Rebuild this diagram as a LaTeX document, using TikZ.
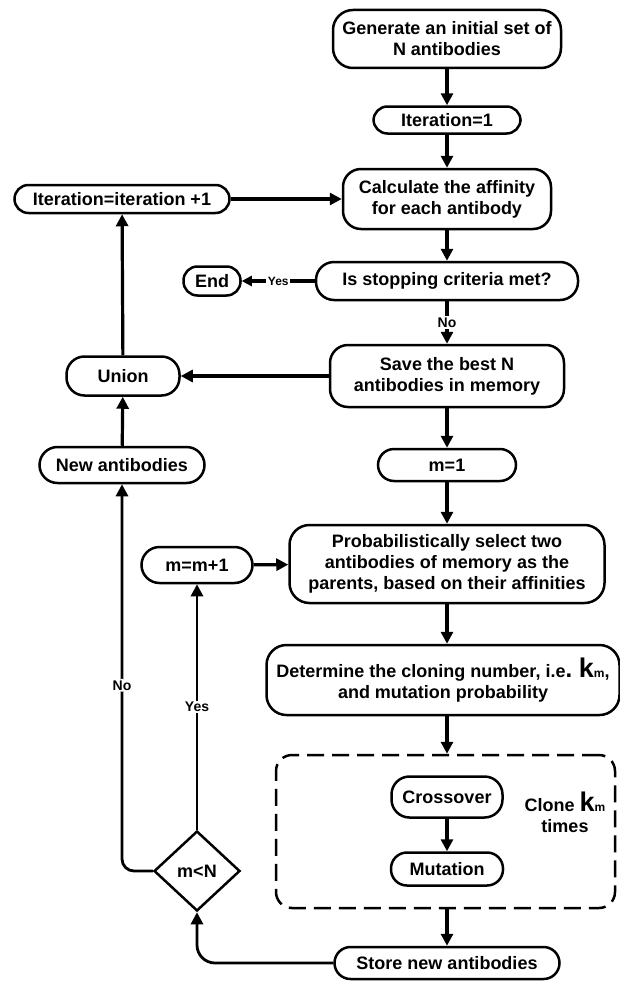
\documentclass[tikz,border=0pt]{standalone}
\usepackage{fontspec}
\setmainfont{Liberation Sans}
\usetikzlibrary{arrows.meta,shapes.geometric}

\newcommand{\kmsym}{{\fontsize{27}{27}\selectfont k}{\fontsize{12}{12}\selectfont m}}

\begin{document}
\begin{tikzpicture}[x=1pt, y=-1pt, >={Triangle[length=12pt,width=12pt]},
    font=\fontsize{18}{21}\selectfont\bfseries,
    box/.style={draw, line width=2.5pt, rounded corners=#1, align=center, inner sep=0pt},
    box/.default=14pt,
    flow/.style={->, line width=3.2pt},
    lbl/.style={fill=white, inner sep=1.5pt, font=\fontsize{14}{14}\selectfont\bfseries}]
    \useasboundingbox (0,0) rectangle (619,982);

    % Main column
    \node[box=20pt, minimum width=228pt, minimum height=58pt] (gen) at (447,39) {Generate an initial set of\\N antibodies};
    \node[box, minimum width=147pt, minimum height=27pt] (it1) at (447,120) {Iteration=1};
    \node[box=18pt, minimum width=208pt, minimum height=60pt] (calc) at (447,199) {Calculate the affinity\\for each antibody};
    \node[box=18pt, minimum width=262pt, minimum height=38pt] (stop) at (447,281) {Is stopping criteria met?};
    \node[box=18pt, minimum width=234pt, minimum height=62pt] (save) at (447,376) {Save the best N\\antibodies in memory};
    \node[box=16pt, minimum width=138pt, minimum height=32pt] (m1) at (447,465) {m=1};
    \node[box=20pt, minimum width=315pt, minimum height=78pt] (prob) at (447,564) {Probabilistically select two\\antibodies of memory as the\\parents, based on their affinities};
    \node[box=20pt, minimum width=353pt, minimum height=70pt] (det) at (443,680) {Determine the cloning number, i.e{\fontsize{24}{24}\selectfont .} \kmsym,\\and mutation probability};

    % Clone loop
    \node[draw, line width=2.5pt, dash pattern=on 17pt off 8pt, rounded corners=16pt,
        minimum width=339pt, minimum height=153pt] (clonebox) at (445.5,831.5) {};
    \node[box=18pt, minimum width=111pt, minimum height=41pt] (cross) at (447,797) {Crossover};
    \node[box=16pt, minimum width=112pt, minimum height=33pt] (mut) at (447,869) {Mutation};
    \node[align=center] (clonetxt) at (565,812) {Clone \kmsym\\times};
    \node[box=16pt, minimum width=225pt, minimum height=32pt] (store) at (447,963) {Store new antibodies};

    % Left column
    \node[box, minimum width=57pt, minimum height=29pt] (endn) at (212,281) {End};
    \node[box, minimum width=215pt, minimum height=28pt] (itinc) at (122,199) {Iteration=iteration +1};
    \node[box=18pt, minimum width=113pt, minimum height=39pt] (union) at (123,376) {Union};
    \node[box=18pt, minimum width=165pt, minimum height=36pt] (newab) at (122,465) {New antibodies};
    \node[box=18pt, minimum width=111pt, minimum height=36pt] (minc) at (197,565) {m=m+1};
    \node[draw, diamond, line width=2.5pt, inner sep=0pt, minimum width=86pt, minimum height=80pt] (mltn) at (197,871) {m<N};

    % Arrows
    \draw[flow] (gen) -- (it1);
    \draw[flow] (it1) -- (calc);
    \draw[flow] (calc) -- (stop);
    \draw[flow, >={Triangle[length=10pt,width=10pt]}] (stop) -- node[lbl, font=\fontsize{12}{12}\selectfont\bfseries] {Yes} (endn);
    \draw[flow] (stop) -- node[lbl] {No} (save);
    \draw[flow] (save) -- (union);
    \draw[flow] (union) -- (itinc);
    \draw[flow] (itinc) -- (calc);
    \draw[flow] (newab) -- (union);
    \draw[flow] (save) -- (m1);
    \draw[flow] (m1) -- (prob);
    \draw[flow] (prob.south -| det.north) ++(4,0) coordinate (pb) -- (pb |- det.north);
    \draw[flow] (det.south -| clonebox.north) ++(1.5,0) coordinate (db) -- (db |- clonebox.north);
    \draw[flow] (cross) -- (mut);
    \draw[flow] (clonebox.south) ++(1.5,0) coordinate (cb) -- (cb |- store.north);
    \draw[flow, line width=2.8pt, rounded corners=18pt] (store.west) -| (mltn.south);
    \draw[flow, line width=2.8pt] (mltn.north) -- node[lbl] {Yes} (minc.south);
    \draw[flow, line width=2.8pt, rounded corners=12pt] (mltn.west) -| node[lbl, pos=0.74] {No} (newab.south);
    \draw[flow] (minc) -- (prob);
\end{tikzpicture}
\end{document}
